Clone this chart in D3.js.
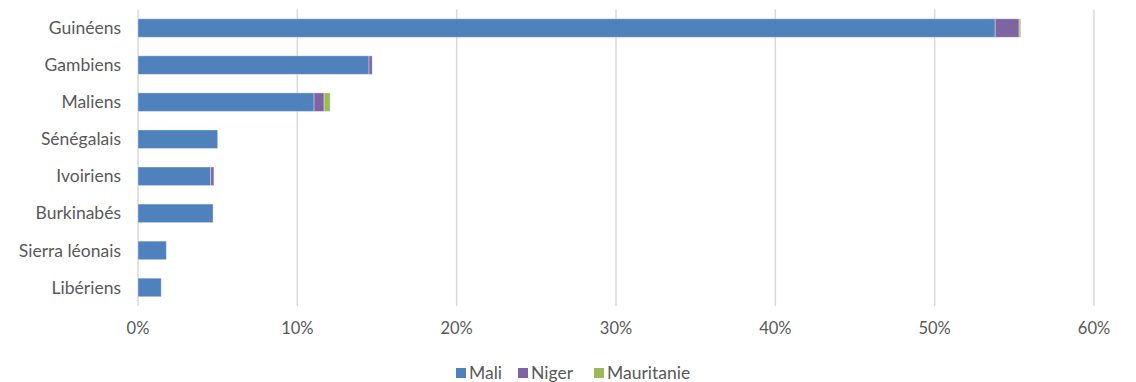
<!DOCTYPE html>
<html><head><meta charset="utf-8">
<script src="https://cdn.jsdelivr.net/npm/d3@7"></script>
<style>body{margin:0;background:#fff}svg{display:block}text{font-family:Lato,"Open Sans",sans-serif;fill:#595959}</style>
</head><body><svg id="c" width="1136" height="382"></svg>
<script>
const categories = ["Guinéens","Gambiens","Maliens","Sénégalais","Ivoiriens","Burkinabés","Sierra léonais","Libériens"];
const seriesNames = ["Mali","Niger","Mauritanie"];
const mali = [53.8,14.5,11.05,5.0,4.56,4.71,1.78,1.46];
const niger = [1.5,0.2,0.63,0,0.2,0,0,0];
const mauritanie = [0.1,0,0.38,0,0,0,0,0];
const colors = ["#4f81bd","#8064a2","#9bbb59"];
const xTicks = [0,10,20,30,40,50,60];

const svg = d3.select("#c");
const x = d3.scaleLinear().domain([0,60]).range([138,1094]);
const y = d3.scaleBand().domain(categories).range([9.5,306]).paddingInner(0.5).paddingOuter(0.25);

const rows = categories.map((c,i)=>({cat:c, Mali:mali[i], Niger:niger[i], Mauritanie:mauritanie[i]}));
const stack = d3.stack().keys(seriesNames)(rows);

// grid
svg.append("g").selectAll("line").data(xTicks.slice(1)).join("line")
  .attr("x1",d=>x(d)).attr("x2",d=>x(d)).attr("y1",9.5).attr("y2",306)
  .attr("stroke","#d9d9d9").attr("stroke-width",1.5);
svg.append("line").attr("x1",x(0)).attr("x2",x(0)).attr("y1",9.5).attr("y2",306)
  .attr("stroke","#d9d9d9").attr("stroke-width",1.5);

// bars
svg.append("g").selectAll("g").data(stack).join("g").attr("fill",(d,i)=>colors[i])
  .selectAll("rect").data(d=>d.filter(v=>v[1]-v[0]>0)).join("rect")
  .attr("x",d=>x(d[0])).attr("width",d=>x(d[1])-x(d[0]))
  .attr("y",d=>y(d.data.cat)).attr("height",y.bandwidth())
  .attr("stroke","#ffffff").attr("stroke-opacity",0.35).attr("stroke-width",1);

// y labels
svg.append("g").selectAll("text").data(categories).join("text")
  .attr("x",121).attr("y",d=>y(d)+y.bandwidth()/2).attr("dy","0.35em")
  .attr("text-anchor","end").attr("font-size",17.5).text(d=>d);

// x ticks
svg.append("g").selectAll("text").data(xTicks).join("text")
  .attr("x",d=>x(d)).attr("y",334).attr("text-anchor","middle").attr("font-size",16.5)
  .text(d=>d+"%");

// legend
const legendItems = [{n:"Mali",x:456},{n:"Niger",x:518},{n:"Mauritanie",x:594}];
const lg = svg.append("g");
seriesNames.forEach((n,i)=>{
  const lx = legendItems[i].x;
  lg.append("rect").attr("x",lx).attr("y",368).attr("width",10).attr("height",10).attr("fill",colors[i]);
  lg.append("text").attr("x",lx+13).attr("y",373).attr("dy","0.35em").attr("font-size",17.5).text(n);
});
</script></body></html>
